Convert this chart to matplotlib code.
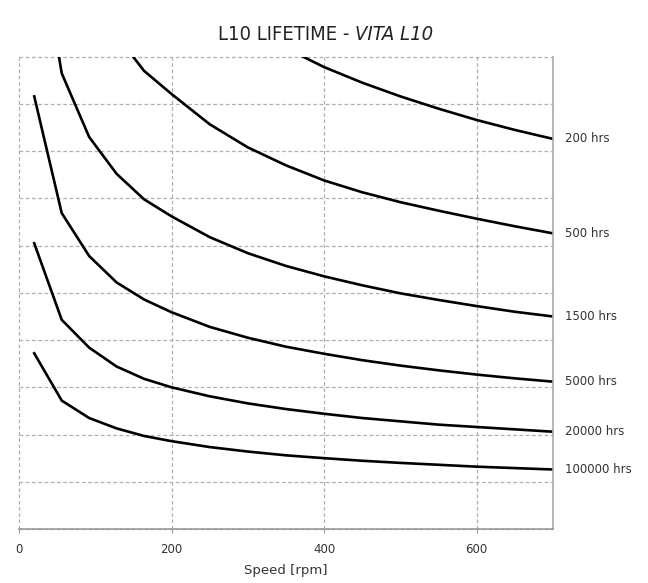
import matplotlib
matplotlib.use("Agg")
import matplotlib.pyplot as plt

# speed points (rpm) shared by every curve
speed = [20, 56, 92, 128, 164, 200, 250, 300, 350, 400, 450, 500, 550, 600, 650, 700]

# relative load (axis has no labels, 0..10 units)
h200 = [24.6, 18.0, 15.3, 13.8, 12.8, 12.0, 11.25, 10.65, 10.18, 9.78, 9.45, 9.16, 8.90, 8.66, 8.45, 8.26]
h500 = [18.3, 13.4, 11.5, 10.45, 9.70, 9.21, 8.57, 8.08, 7.70, 7.38, 7.13, 6.92, 6.74, 6.57, 6.41, 6.26]
h1500 = [13.2, 9.65, 8.30, 7.52, 6.98, 6.62, 6.18, 5.84, 5.57, 5.35, 5.16, 4.99, 4.85, 4.72, 4.60, 4.50]
h5000 = [9.16, 6.69, 5.78, 5.22, 4.86, 4.59, 4.28, 4.05, 3.86, 3.71, 3.575, 3.46, 3.36, 3.27, 3.19, 3.12]
h20000 = [6.05, 4.43, 3.84, 3.44, 3.18, 3.00, 2.81, 2.66, 2.54, 2.44, 2.35, 2.28, 2.21, 2.16, 2.11, 2.06]
h100000 = [3.72, 2.72, 2.35, 2.13, 1.97, 1.86, 1.735, 1.64, 1.56, 1.50, 1.445, 1.40, 1.36, 1.32, 1.29, 1.26]

curves = [h200, h500, h1500, h5000, h20000, h100000]
labels = ["200 hrs", "500 hrs", "1500 hrs", "5000 hrs", "20000 hrs", "100000 hrs"]

fig = plt.figure(figsize=(6.48, 5.83), dpi=100)
ax = fig.add_axes([0.0293, 0.0926, 0.8241, 0.8101])

for vals, lab in zip(curves, labels):
    ax.plot(speed, vals, color='black', lw=1.9)
    ax.annotate(lab, xy=(speed[-1], vals[-1]), xytext=(8.5, 0), textcoords='offset points',
                va='center', ha='left', fontsize=8.5, color='#333333', annotation_clip=False)

ax.set_xlim(0, 700)
ax.set_ylim(0, 10)
ax.set_xticks([0, 200, 400, 600])
ax.set_yticks(range(0, 11))
ax.set_yticklabels([])
ax.tick_params(axis='y', length=0)
ax.tick_params(axis='x', length=3, pad=7, color='#999999', labelsize=8.5, labelcolor='#333333')

ax.grid(True, color='#b0b0b0', linestyle=(0, (3, 2)), lw=0.9)
for gl in ax.get_xgridlines() + ax.get_ygridlines():
    gl.set_clip_on(False)
ax.set_axisbelow(True)

ax.spines['left'].set_visible(False)
ax.spines['top'].set_visible(False)
ax.spines['right'].set_color('#aaaaaa')
ax.spines['bottom'].set_color('#999999')
ax.spines['right'].set_linewidth(1.2)
ax.spines['bottom'].set_linewidth(1.2)

ax.set_xlabel("Speed [rpm]", fontsize=9.5, color='#333333', labelpad=5.5)

fig.text(0.548, 0.94, "L10 LIFETIME - ", ha='right', va='center', fontsize=14.5,
         fontstretch='condensed', color='#222222')
fig.text(0.548, 0.94, "VITA L10", ha='left', va='center', fontsize=14.5, style='italic',
         fontstretch='condensed', color='#222222')

fig.savefig("out.png", dpi=100)
